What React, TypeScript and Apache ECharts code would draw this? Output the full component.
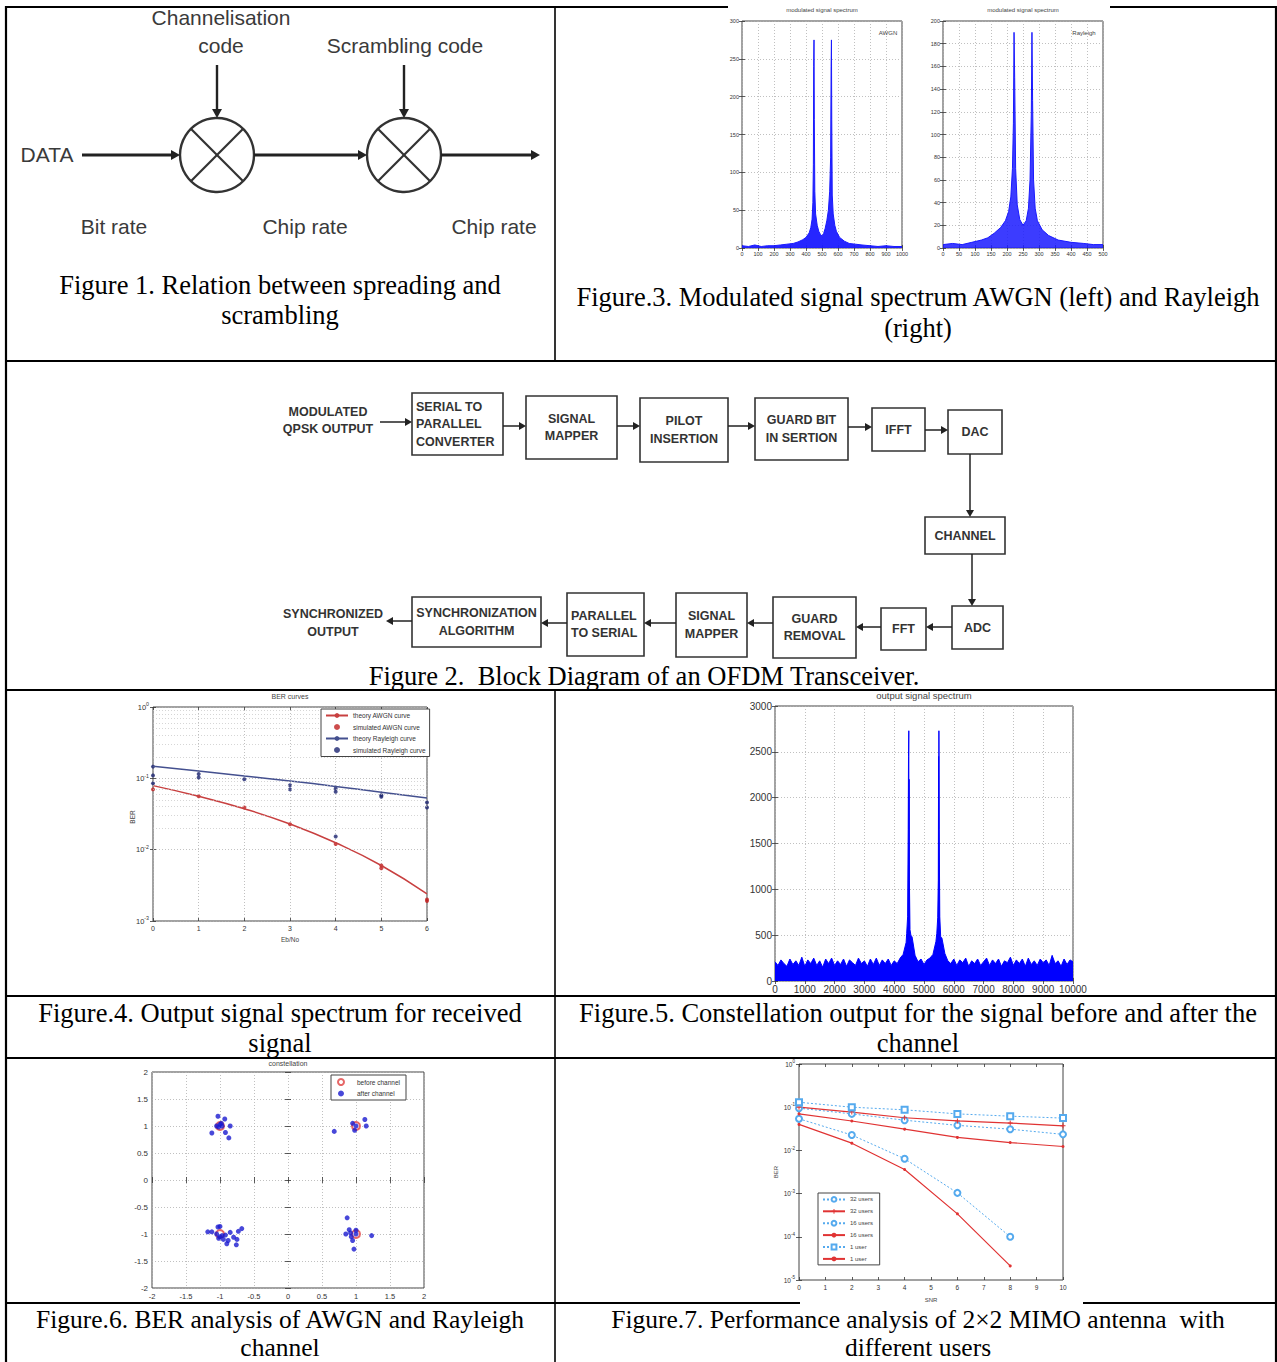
import React, { useEffect, useRef } from "react";
import * as echarts from "echarts";

// ---------------- DATA ----------------
// Figure 3 (left): modulated signal spectrum, AWGN  [bin, magnitude]
const fig3AwgnSpectrum: [number, number][] = [
  [0, 3], [40, 2], [80, 4], [120, 2], [160, 3], [200, 3], [240, 4], [280, 5], [320, 6], [350, 8],
  [380, 11], [400, 14], [420, 20], [430, 27], [438, 38], [443, 60], [446, 110], [448, 240], [450, 275],
  [452, 170], [455, 75], [460, 45], [470, 30], [480, 22], [490, 18], [500, 16], [510, 19], [520, 26],
  [530, 36], [540, 50], [548, 75], [554, 120], [557, 240], [559, 275], [561, 170], [564, 70], [570, 45],
  [580, 30], [590, 22], [610, 14], [640, 9], [670, 6], [710, 5], [750, 4], [800, 3], [850, 2], [900, 3],
  [950, 2], [1000, 2],
];
// Figure 3 (right): modulated signal spectrum, Rayleigh
const fig3RayleighSpectrum: [number, number][] = [
  [0, 3], [30, 4], [60, 3], [90, 5], [120, 7], [140, 9], [160, 13], [180, 18], [195, 24], [205, 32],
  [212, 45], [217, 70], [220, 110], [222, 190], [224, 150], [227, 70], [232, 38], [240, 25], [250, 20],
  [260, 24], [267, 35], [272, 60], [276, 120], [278, 190], [280, 130], [283, 60], [288, 35], [295, 24],
  [310, 16], [330, 11], [360, 7], [400, 5], [440, 4], [470, 3], [500, 3],
];

// Figure 4 plot: BER curves
const fig4EbNo = [0, 1, 2, 3, 4, 5, 6];
const fig4TheoryAwgn = [0.079, 0.056, 0.0375, 0.0229, 0.0125, 0.006, 0.0024];
const fig4TheoryRayleigh = [0.148, 0.127, 0.108, 0.092, 0.077, 0.064, 0.053];
const fig4SimAwgn: [number, number][] = [
  [0, 0.07], [1, 0.056], [2, 0.039], [3, 0.0227], [4, 0.012], [5, 0.006], [5, 0.0055], [6, 0.002], [6, 0.0019],
];
const fig4SimRayleigh: [number, number][] = [
  [0, 0.146], [0, 0.11], [0, 0.085], [1, 0.115], [1, 0.103], [2, 0.097], [3, 0.08], [3, 0.07],
  [4, 0.072], [4, 0.065], [4, 0.0153], [5, 0.058], [5, 0.055], [6, 0.046], [6, 0.039],
];
const fig4MinorGrid = [
  0.002, 0.003, 0.004, 0.005, 0.006, 0.007, 0.008, 0.009,
  0.02, 0.03, 0.04, 0.05, 0.06, 0.07, 0.08, 0.09,
  0.2, 0.3, 0.4, 0.5, 0.6, 0.7, 0.8, 0.9,
];

// Figure 5 plot: output signal spectrum (noise floor every 100 bins + peaks)
const fig5NoiseStep = 100;
const fig5NoiseFloor = [
  210, 170, 230, 190, 160, 240, 180, 220, 170, 260,
  160, 230, 190, 250, 170, 220, 150, 240, 190, 250,
  170, 220, 180, 240, 160, 230, 200, 170, 250, 190,
  220, 160, 240, 180, 250, 170, 230, 190, 240, 170,
  220, 190, 250, 290, 420, 350, 480, 280, 210, 240,
  180, 230, 250, 290, 430, 360, 470, 300, 220, 190,
  240, 170, 230, 200, 250, 160, 220, 190, 240, 170,
  210, 250, 170, 230, 190, 240, 160, 220, 200, 260,
  170, 230, 190, 240, 160, 250, 180, 220, 170, 240,
  200, 230, 170, 280, 190, 220, 160, 240, 180, 230,
  210,
];
const fig5PeakPoints: [number, number][] = [
  [4420, 520], [4450, 700], [4470, 1650], [4480, 2450], [4490, 2730], [4500, 2200], [4510, 1100],
  [4530, 560], [4560, 500],
  [5430, 520], [5460, 690], [5480, 1100], [5490, 2450], [5500, 2730], [5510, 1650], [5530, 700],
  [5560, 480],
];

// Figure 6 plot: constellation
const fig6BeforeChannel: [number, number][] = [[1, 1], [1, -1], [-1, 1], [-1, -1]];
const fig6AfterChannel: [number, number][] = [
  [-1.03, 1.18], [-0.93, 1.13], [-1.0, 1.03], [-1.05, 1.0], [-0.97, 1.0], [-0.85, 1.0], [-1.12, 0.87],
  [-0.92, 0.88], [-0.87, 0.78], [-1.02, 0.98], [-0.98, 1.05],
  [0.95, 1.05], [0.98, 0.92], [0.68, 0.9], [1.13, 1.12], [1.15, 1.0], [1.0, 1.0],
  [-1.03, -0.87], [-1.0, -0.86], [-1.18, -0.96], [-1.12, -0.96], [-1.05, -1.0], [-1.0, -1.05],
  [-0.97, -1.03], [-0.95, -1.1], [-0.9, -1.18], [-0.85, -0.97], [-0.8, -1.06], [-0.75, -1.1],
  [-0.76, -1.2], [-0.73, -0.95], [-0.68, -0.9], [-0.92, -1.02], [-1.02, -1.08], [-0.88, -1.12],
  [0.87, -0.7], [0.9, -0.92], [0.85, -1.0], [0.93, -1.05], [0.95, -1.12], [1.0, -0.93], [0.97, -1.28],
  [1.23, -1.03], [1.0, -1.0], [0.92, -0.98],
];

// Figure 7 plot: BER vs SNR, 2x2 MIMO
const fig7Snr = [0, 2, 4, 6, 8, 10];
const fig7Users32Blue = [0.095, 0.07, 0.05, 0.038, 0.031, 0.0235];
const fig7Users32Red = [0.1, 0.077, 0.057, 0.048, 0.043, 0.037];
const fig7Users16Blue = [0.054, 0.0227, 0.0064, 0.00104, 0.0001];
const fig7Users16Red = [0.07, 0.048, 0.031, 0.02, 0.0152, 0.0123];
const fig7User1Blue = [0.13, 0.1, 0.087, 0.07, 0.062, 0.056];
const fig7User1Red = [0.04, 0.0147, 0.0036, 0.00034, 0.0000212];

// ---------------- HELPERS ----------------
const SANS = "Liberation Sans";
const SERIF = "Liberation Serif";

const pair = (xs: number[], ys: number[]) => ys.map((y, i) => [xs[i], y]);

const logLabel = (v: number) => {
  const e = Math.round(Math.log10(v));
  return `10{e|${e}}`;
};

function valueAxis(gridIndex: number, min: number, max: number, interval: number, fontSize: number, opts: any = {}) {
  return {
    type: "value",
    gridIndex,
    min,
    max,
    interval,
    position: opts.position,
    axisLine: { show: false },
    axisTick: { show: true, inside: true, length: 3, lineStyle: { color: "#333", width: 0.8 } },
    axisLabel: {
      show: opts.labels !== false,
      fontSize,
      color: "#333",
      fontFamily: SANS,
      margin: opts.margin ?? 4,
      formatter: (v: number) => String(v),
    },
    splitLine: { show: !!opts.grid, lineStyle: { type: [1, 2], color: "#b0b0b0", width: 0.8 } },
  };
}

function logAxis(gridIndex: number, min: number, max: number, fontSize: number, opts: any = {}) {
  return {
    type: "log",
    logBase: 10,
    gridIndex,
    min,
    max,
    position: opts.position,
    axisLine: { show: false },
    axisTick: { show: true, inside: true, length: 3, lineStyle: { color: "#333", width: 0.8 } },
    axisLabel: {
      show: opts.labels !== false,
      fontSize,
      color: "#333",
      fontFamily: SANS,
      margin: opts.margin ?? 4,
      formatter: logLabel,
      rich: { e: { fontSize: fontSize * 0.7, color: "#333", fontFamily: SANS, padding: [0, 0, fontSize * 0.7, 0] } },
    },
    splitLine: { show: !!opts.grid, lineStyle: { type: [1, 2], color: "#b0b0b0", width: 0.8 } },
  };
}

function buildGraphics() {
  const g: any[] = [];
  const text = (t: string, x: number, y: number, size: number, o: any = {}) =>
    g.push({
      type: "text",
      x,
      y,
      rotation: o.rotation || 0,
      silent: true,
      z: 60,
      style: {
        text: t,
        fontSize: size,
        fontFamily: o.family || SANS,
        fontWeight: o.weight || "normal",
        fill: o.color || "#222",
        align: o.align || "center",
        verticalAlign: "middle",
      },
    });
  const line = (x1: number, y1: number, x2: number, y2: number, color: string, w: number, z = 60) =>
    g.push({ type: "line", silent: true, z, shape: { x1, y1, x2, y2 }, style: { stroke: color, lineWidth: w } });
  const arrow = (x1: number, y1: number, x2: number, y2: number, color: string, w: number, hl: number, hw: number) => {
    const dx = x2 - x1, dy = y2 - y1;
    const len = Math.sqrt(dx * dx + dy * dy);
    const ux = dx / len, uy = dy / len;
    const bx = x2 - ux * hl, by = y2 - uy * hl;
    line(x1, y1, bx, by, color, w);
    g.push({
      type: "polygon",
      silent: true,
      z: 60,
      shape: { points: [[x2, y2], [bx - uy * hw, by + ux * hw], [bx + uy * hw, by - ux * hw]] },
      style: { fill: color },
    });
  };
  const box = (x: number, y: number, w: number, h: number) =>
    g.push({ type: "rect", silent: true, z: 60, shape: { x, y, width: w, height: h }, style: { fill: "none", stroke: "#333", lineWidth: 1.6 } });

  // ---- table frame ----
  const B = "#000";
  line(6, 7, 728, 7, B, 2.2, 100);
  line(1110, 7, 1277, 7, B, 2.2, 100);
  line(6, 361, 1277, 361, B, 2.2, 100);
  line(6, 690, 1277, 690, B, 2.2, 100);
  line(6, 996, 1277, 996, B, 2.2, 100);
  line(6, 1058, 1277, 1058, B, 2.2, 100);
  line(6, 1303, 800, 1303, B, 2.2, 100);
  line(1083, 1303, 1277, 1303, B, 2.2, 100);
  line(6, 6, 6, 1362, B, 2.2, 100);
  line(1276, 6, 1276, 1362, B, 2.2, 100);
  line(555, 6, 555, 361, B, 1.6, 100);
  line(555, 690, 555, 1362, B, 1.6, 100);

  // ---- Figure 1 diagram ----
  const F1 = "#3a3a3a";
  text("Channelisation", 221, 17, 21, { color: F1 });
  text("code", 221, 45, 21, { color: F1 });
  text("Scrambling code", 405, 45, 21, { color: F1 });
  text("DATA", 47, 154, 21, { color: F1 });
  text("Bit rate", 114, 226, 21, { color: F1 });
  text("Chip rate", 305, 226, 21, { color: F1 });
  text("Chip rate", 494, 226, 21, { color: F1 });
  const mixers = [217, 404];
  mixers.forEach((cx) => {
    const cy = 155, r = 37;
    g.push({ type: "circle", silent: true, z: 60, shape: { cx, cy, r }, style: { fill: "none", stroke: "#333", lineWidth: 2.4 } });
    const d = r * 0.707;
    line(cx - d, cy - d, cx + d, cy + d, "#333", 2.2);
    line(cx - d, cy + d, cx + d, cy - d, "#333", 2.2);
    arrow(cx, 65, cx, cy - r, "#222", 2.4, 9, 5);
  });
  arrow(82, 155, 180, 155, "#222", 2.8, 9, 5);
  arrow(254, 155, 367, 155, "#222", 2.8, 9, 5);
  arrow(441, 155, 540, 155, "#222", 2.8, 9, 5);

  // ---- Figure 2 block diagram ----
  const F2 = "#333";
  const blocks: any[] = [
    { x: 412, y: 393, w: 91, h: 62, t: ["SERIAL TO", "PARALLEL", "CONVERTER"], left: true },
    { x: 526, y: 396, w: 91, h: 63, t: ["SIGNAL", "MAPPER"] },
    { x: 640, y: 398, w: 88, h: 64, t: ["PILOT", "INSERTION"] },
    { x: 755, y: 398, w: 93, h: 62, t: ["GUARD BIT", "IN SERTION"] },
    { x: 872, y: 408, w: 53, h: 43, t: ["IFFT"] },
    { x: 948, y: 410, w: 54, h: 44, t: ["DAC"] },
    { x: 925, y: 517, w: 80, h: 37, t: ["CHANNEL"] },
    { x: 952, y: 606, w: 51, h: 43, t: ["ADC"] },
    { x: 881, y: 608, w: 45, h: 42, t: ["FFT"] },
    { x: 773, y: 597, w: 83, h: 61, t: ["GUARD", "REMOVAL"] },
    { x: 676, y: 593, w: 71, h: 64, t: ["SIGNAL", "MAPPER"] },
    { x: 567, y: 593, w: 77, h: 63, t: ["PARALLEL", "TO SERIAL"], left: true },
    { x: 412, y: 597, w: 129, h: 50, t: ["SYNCHRONIZATION", "ALGORITHM"] },
  ];
  blocks.forEach((b) => {
    box(b.x, b.y, b.w, b.h);
    const lh = 17.5;
    const cy = b.y + b.h / 2;
    b.t.forEach((s: string, i: number) => {
      const y = cy + (i - (b.t.length - 1) / 2) * lh;
      if (b.left) text(s, b.x + 4, y, 12.5, { weight: "bold", color: F2, align: "left" });
      else text(s, b.x + b.w / 2, y, 12.5, { weight: "bold", color: F2 });
    });
  });
  text("MODULATED", 328, 412, 12.5, { weight: "bold", color: F2 });
  text("QPSK OUTPUT", 328, 429, 12.5, { weight: "bold", color: F2 });
  text("SYNCHRONIZED", 333, 614, 12.5, { weight: "bold", color: F2 });
  text("OUTPUT", 333, 632, 12.5, { weight: "bold", color: F2 });
  const arrows: number[][] = [
    [380, 422, 412, 422], [503, 426, 526, 426], [617, 426, 640, 426], [728, 426, 755, 426],
    [848, 427, 872, 427], [925, 430, 948, 430], [970, 454, 970, 517], [972, 554, 972, 606],
    [952, 627, 926, 627], [881, 627, 856, 627], [773, 623, 747, 623], [676, 623, 644, 623],
    [567, 623, 541, 623], [412, 621, 386, 621],
  ];
  arrows.forEach((a) => arrow(a[0], a[1], a[2], a[3], "#222", 1.5, 7, 4));

  // ---- chart titles & axis names ----
  text("modulated signal spectrum", 822, 10, 6, { color: "#444" });
  text("modulated signal spectrum", 1023, 10, 6, { color: "#444" });
  text("AWGN", 888, 33, 6, { color: "#444" });
  text("Rayleigh", 1084, 33, 6, { color: "#444" });
  text("BER curves", 290, 696, 7, { color: "#444" });
  text("Eb/No", 290, 939, 6.5, { color: "#444" });
  text("BER", 132, 817, 6.5, { color: "#444", rotation: Math.PI / 2 });
  text("output signal spectrum", 924, 695, 9.5, { color: "#444" });
  text("constellation", 288, 1063, 7, { color: "#444" });
  text("SNR", 931, 1300, 6, { color: "#444" });
  text("BER", 776, 1172, 6, { color: "#444", rotation: Math.PI / 2 });

  // ---- captions ----
  const cap = (t: string, x: number, y: number, size = 26.5) => text(t, x, y, size, { family: SERIF, color: "#000" });
  cap("Figure 1. Relation between spreading and", 280, 285);
  cap("scrambling", 280, 315);
  cap("Figure.3. Modulated signal spectrum AWGN (left) and Rayleigh", 918, 297);
  cap("(right)", 918, 328);
  cap("Figure 2.  Block Diagram of an OFDM Transceiver.", 644, 676);
  cap("Figure.4. Output signal spectrum for received", 280, 1013);
  cap("signal", 280, 1043);
  cap("Figure.5. Constellation output for the signal before and after the", 918, 1013);
  cap("channel", 918, 1043);
  cap("Figure.6. BER analysis of AWGN and Rayleigh", 280, 1319, 25.5);
  cap("channel", 280, 1347.5, 25.5);
  cap("Figure.7. Performance analysis of 2\u00d72 MIMO antenna  with", 918, 1319, 25.5);
  cap("different users", 918, 1347.5, 25.5);
  return g;
}

function buildOption() {
  const gridBase = { show: true, borderColor: "#444", borderWidth: 1, backgroundColor: "#fff", containLabel: false };
  const grids = [
    { left: 742, top: 21, width: 160, height: 227 },
    { left: 943, top: 21, width: 160, height: 227 },
    { left: 153, top: 707, width: 274, height: 214 },
    { left: 775, top: 706, width: 298, height: 275 },
    { left: 152, top: 1072, width: 272, height: 216 },
    { left: 799, top: 1064, width: 264, height: 216 },
  ].map((gr) => ({ ...gridBase, ...gr }));

  const xAxis = [
    valueAxis(0, 0, 1000, 100, 5.5, { grid: true, margin: 3 }),
    valueAxis(1, 0, 500, 50, 5.5, { grid: true, margin: 3 }),
    valueAxis(2, 0, 6, 1, 7, { grid: true }),
    valueAxis(3, 0, 10000, 1000, 10, { grid: true, margin: 3 }),
    valueAxis(4, -2, 2, 0.5, 7.5, { grid: true }),
    valueAxis(5, 0, 10, 1, 6.5, {}),
    valueAxis(0, 0, 1000, 100, 6, { labels: false, position: "top" }),
    valueAxis(1, 0, 500, 50, 6, { labels: false, position: "top" }),
    valueAxis(2, 0, 6, 1, 6, { labels: false, position: "top" }),
    valueAxis(3, 0, 10000, 1000, 6, { labels: false, position: "top" }),
    valueAxis(4, -2, 2, 0.5, 6, { labels: false, position: "top" }),
    valueAxis(5, 0, 10, 1, 6, { labels: false, position: "top" }),
  ];
  const yAxis = [
    valueAxis(0, 0, 300, 50, 5.5, { grid: true, margin: 3 }),
    valueAxis(1, 0, 200, 20, 5.5, { grid: true, margin: 3 }),
    logAxis(2, 0.001, 1, 7.5, { grid: true }),
    valueAxis(3, 0, 3000, 500, 10, { grid: true, margin: 3 }),
    valueAxis(4, -2, 2, 0.5, 8, { grid: true }),
    logAxis(5, 0.00001, 1, 6.5, {}),
    valueAxis(0, 0, 300, 50, 6, { labels: false, position: "right" }),
    valueAxis(1, 0, 200, 20, 6, { labels: false, position: "right" }),
    logAxis(2, 0.001, 1, 6, { labels: false, position: "right" }),
    valueAxis(3, 0, 3000, 500, 6, { labels: false, position: "right" }),
    valueAxis(4, -2, 2, 0.5, 6, { labels: false, position: "right" }),
    logAxis(5, 0.00001, 1, 6, { labels: false, position: "right" }),
  ];

  const fig5Data = [
    ...fig5NoiseFloor.map((v, i) => [i * fig5NoiseStep, v]),
    ...fig5PeakPoints,
  ].sort((a, b) => a[0] - b[0]);

  const BLUE = "#1a1aff";
  const LBLUE = "#55aaee";
  const RED = "#e03333";
  const PLUS = "path://M4,0H6V4H10V6H6V10H4V6H0V4H4Z";

  const series: any[] = [
    {
      type: "line", name: "awgnSpec", xAxisIndex: 0, yAxisIndex: 0, data: fig3AwgnSpectrum, showSymbol: false,
      lineStyle: { color: BLUE, width: 1 }, areaStyle: { color: BLUE, opacity: 0.95 }, silent: true,
    },
    {
      type: "line", name: "rayleighSpec", xAxisIndex: 1, yAxisIndex: 1, data: fig3RayleighSpectrum, showSymbol: false,
      lineStyle: { color: BLUE, width: 1 }, areaStyle: { color: BLUE, opacity: 0.85 }, silent: true,
    },
    {
      type: "line", name: "theory AWGN curve", xAxisIndex: 2, yAxisIndex: 2, data: pair(fig4EbNo, fig4TheoryAwgn),
      smooth: true, symbol: "none", lineStyle: { color: "#c84040", width: 1.5 }, itemStyle: { color: "#c84040" },
      markLine: {
        silent: true, symbol: "none", label: { show: false },
        lineStyle: { type: [1, 2], color: "#c4c4c4", width: 0.7 },
        data: fig4MinorGrid.map((v) => ({ yAxis: v })),
        animation: false,
      },
    },
    {
      type: "scatter", name: "simulated AWGN curve", xAxisIndex: 2, yAxisIndex: 2, data: fig4SimAwgn,
      symbol: "circle", symbolSize: 4, itemStyle: { color: "#c02020" },
    },
    {
      type: "line", name: "theory Rayleigh curve", xAxisIndex: 2, yAxisIndex: 2, data: pair(fig4EbNo, fig4TheoryRayleigh),
      smooth: true, symbol: "none", lineStyle: { color: "#44508f", width: 1.5 }, itemStyle: { color: "#44508f" },
    },
    {
      type: "scatter", name: "simulated Rayleigh curve", xAxisIndex: 2, yAxisIndex: 2, data: fig4SimRayleigh,
      symbol: "circle", symbolSize: 4, itemStyle: { color: "#1c2470" },
    },
    {
      type: "line", name: "outSpec", xAxisIndex: 3, yAxisIndex: 3, data: fig5Data, showSymbol: false,
      lineStyle: { color: "#0000ff", width: 1 }, areaStyle: { color: "#0000ff", opacity: 1 }, silent: true,
    },
    {
      type: "scatter", name: "before channel", xAxisIndex: 4, yAxisIndex: 4, data: fig6BeforeChannel,
      symbol: "emptyCircle", symbolSize: 8, itemStyle: { color: "#e04040", borderWidth: 1 },
    },
    {
      type: "scatter", name: "after channel", xAxisIndex: 4, yAxisIndex: 4, data: fig6AfterChannel,
      symbol: "circle", symbolSize: 5, itemStyle: { color: "#1a1ad0" },
    },
    {
      type: "line", name: "32 users", xAxisIndex: 5, yAxisIndex: 5, data: pair(fig7Snr, fig7Users32Blue),
      symbol: "emptyCircle", symbolSize: 6, lineStyle: { color: LBLUE, width: 1, type: [2, 2] }, itemStyle: { color: LBLUE },
    },
    {
      type: "line", name: "32 users ", xAxisIndex: 5, yAxisIndex: 5, data: pair(fig7Snr, fig7Users32Red),
      symbol: PLUS, symbolSize: 5, lineStyle: { color: RED, width: 1.2 }, itemStyle: { color: RED },
    },
    {
      type: "line", name: "16 users", xAxisIndex: 5, yAxisIndex: 5, data: pair(fig7Snr, fig7Users16Blue),
      symbol: "emptyCircle", symbolSize: 6, lineStyle: { color: LBLUE, width: 1, type: [2, 2] }, itemStyle: { color: LBLUE },
    },
    {
      type: "line", name: "16 users ", xAxisIndex: 5, yAxisIndex: 5, data: pair(fig7Snr, fig7Users16Red),
      symbol: "circle", symbolSize: 3, lineStyle: { color: RED, width: 1.2 }, itemStyle: { color: RED },
    },
    {
      type: "line", name: "1 user", xAxisIndex: 5, yAxisIndex: 5, data: pair(fig7Snr, fig7User1Blue),
      symbol: "emptyRect", symbolSize: 6, lineStyle: { color: LBLUE, width: 1, type: [2, 2] }, itemStyle: { color: LBLUE },
    },
    {
      type: "line", name: "1 user ", xAxisIndex: 5, yAxisIndex: 5, data: pair(fig7Snr, fig7User1Red),
      symbol: "circle", symbolSize: 3, lineStyle: { color: RED, width: 1.2 }, itemStyle: { color: RED },
    },
  ];

  const legendBase = {
    orient: "vertical",
    borderColor: "#444",
    borderWidth: 1,
    backgroundColor: "#fff",
    itemWidth: 22,
    itemHeight: 6,
    selectedMode: false,
    z: 20,
  };
  const legend = [
    {
      ...legendBase, left: 321, top: 709, itemGap: 4.5, padding: [3, 4, 3, 4],
      textStyle: { fontSize: 6.5, color: "#333", fontFamily: SANS },
      data: ["theory AWGN curve", "simulated AWGN curve", "theory Rayleigh curve", "simulated Rayleigh curve"],
    },
    {
      ...legendBase, left: 331, top: 1075, itemGap: 4, padding: [3, 6, 3, 6],
      textStyle: { fontSize: 6.5, color: "#333", fontFamily: SANS },
      data: ["before channel", "after channel"],
    },
    {
      ...legendBase, left: 818, top: 1193, itemGap: 5.5, padding: [3, 5, 3, 4],
      textStyle: { fontSize: 6, color: "#444", fontFamily: SANS },
      data: ["32 users", "32 users ", "16 users", "16 users ", "1 user", "1 user "],
    },
  ];

  return {
    animation: false,
    backgroundColor: "#fff",
    textStyle: { fontFamily: SANS },
    grid: grids,
    xAxis,
    yAxis,
    legend,
    series,
    graphic: { elements: buildGraphics() },
  };
}

export default function App() {
  const ref = useRef<HTMLDivElement>(null);
  useEffect(() => {
    document.body.style.margin = "0";
    if (!ref.current) return;
    const chart = echarts.init(ref.current, undefined, { renderer: "svg" });
    chart.setOption(buildOption() as any);
    return () => chart.dispose();
  }, []);
  return <div ref={ref} style={{ width: 1277, height: 1362 }} />;
}
